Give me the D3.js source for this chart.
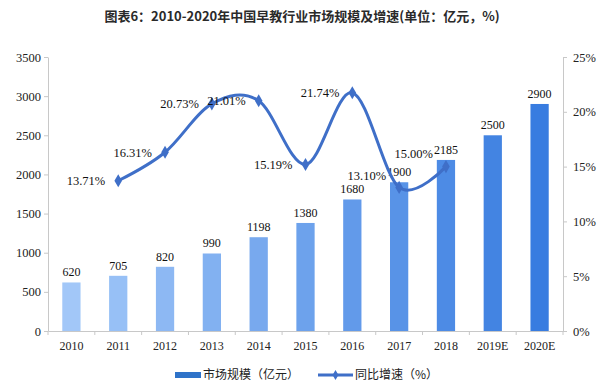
<!DOCTYPE html>
<html><head><meta charset="utf-8">
<script src="https://cdn.jsdelivr.net/npm/d3@7/dist/d3.min.js"></script>
<style>body{margin:0;background:#fff}svg{display:block}</style>
</head><body><svg id="c" width="600" height="387"></svg>
<script>
const categories = ["2010","2011","2012","2013","2014","2015","2016","2017","2018","2019E","2020E"];
const marketSize = [620,705,820,990,1198,1380,1680,1900,2185,2500,2900];
const growthYears = ["2011","2012","2013","2014","2015","2016","2017","2018"];
const growthRate = [13.71,16.31,20.73,21.01,15.19,21.74,13.10,15.00];
const leftTicks = [0,500,1000,1500,2000,2500,3000,3500];
const rightTicks = [0,5,10,15,20,25];
const title = "图表6：2010-2020年中国早教行业市场规模及增速(单位：亿元，%)";
const legendLabels = ["市场规模（亿元）","同比增速（%）"];

const svg = d3.select("#c");
const L = 48, R = 563, T = 57, B = 331;
const serif = "'Liberation Serif','Times New Roman',serif";
const axisColor = "#c8c8c8";
const lineColor = "#3f6fc8";

const x = d3.scaleBand().domain(categories).range([L, R]);
const y = d3.scaleLinear().domain([0, 3500]).range([B, T]);
const y2 = d3.scaleLinear().domain([0, 25]).range([B, T]);
const barColor = d3.scaleLinear().domain([0, categories.length - 1]).range(["#a2c7f8", "#387ce0"]);
const bw = x.bandwidth() * 0.39;
const cx = d => x(d) + x.bandwidth() / 2;

// title
svg.append("text").attr("x", 302).attr("y", 21).attr("text-anchor", "middle")
  .attr("font-family", "'Noto Sans CJK SC',sans-serif").attr("font-weight", "bold")
  .attr("font-size", 13).attr("fill", "#2a2a2a").text(title);

// bars
svg.append("g").selectAll("rect").data(marketSize).join("rect")
  .attr("x", (d, i) => cx(categories[i]) - bw / 2)
  .attr("y", d => y(d)).attr("width", bw).attr("height", d => B - y(d))
  .attr("fill", (d, i) => barColor(i));

// bar labels
svg.append("g").selectAll("text").data(marketSize).join("text")
  .attr("x", (d, i) => cx(categories[i])).attr("y", d => y(d) - 6)
  .attr("text-anchor", "middle").attr("font-family", serif).attr("font-size", 12)
  .attr("fill", "#111").text(d => d);

// axes
const axStyle = g => {
  g.selectAll("path,line").attr("stroke", axisColor);
  g.selectAll("text").attr("font-family", serif).attr("font-size", 12.5).attr("fill", "#222");
};
svg.append("g").attr("transform", `translate(${L},0)`)
  .call(d3.axisLeft(y).tickValues(leftTicks).tickFormat(d3.format("d")).tickSize(4).tickSizeOuter(0).tickPadding(3))
  .call(axStyle);
svg.append("g").attr("transform", `translate(${R},0)`)
  .call(d3.axisRight(y2).tickValues(rightTicks).tickSize(4).tickSizeOuter(0).tickPadding(6).tickFormat(d => d + "%"))
  .call(axStyle);
const xg = svg.append("g").attr("transform", `translate(0,${B})`)
  .call(d3.axisBottom(x).tickSize(0).tickPadding(10)).call(axStyle);
xg.selectAll("text").attr("font-size", 12);
// tick marks at band boundaries
svg.append("g").selectAll("line").data(categories.concat(["end"])).join("line")
  .attr("x1", (d, i) => i < categories.length ? x(d) : R)
  .attr("x2", (d, i) => i < categories.length ? x(d) : R)
  .attr("y1", B).attr("y2", B + 4).attr("stroke", axisColor);

// growth line
const pts = growthRate.map((v, i) => [cx(growthYears[i]), y2(v)]);
svg.append("path").datum(pts).attr("fill", "none").attr("stroke", lineColor)
  .attr("stroke-width", 3).attr("d", d3.line().curve(d3.curveCardinal.tension(0)));
const diamond = d3.symbol().type(d3.symbolDiamond).size(50);
svg.append("g").selectAll("path").data(pts).join("path")
  .attr("transform", d => `translate(${d[0]},${d[1]})`).attr("d", diamond).attr("fill", lineColor);

// growth labels (left of point; last two raised)
const labelDy = [0, 0, 0, 0, 0, 0, -12, -13];
svg.append("g").selectAll("text").data(growthRate).join("text")
  .attr("x", (d, i) => pts[i][0] - 13).attr("y", (d, i) => pts[i][1] + labelDy[i])
  .attr("dy", "0.35em").attr("text-anchor", "end")
  .attr("font-family", serif).attr("font-size", 12.5).attr("fill", "#111")
  .text(d => d.toFixed(2) + "%");

// legend
const lg = svg.append("g").attr("font-family", "'Noto Sans CJK SC',sans-serif").attr("font-size", 12).attr("fill", "#222");
lg.append("rect").attr("x", 175).attr("y", 372).attr("width", 26).attr("height", 6).attr("fill", "#2f73c9");
lg.append("text").attr("x", 203).attr("y", 375).attr("dy", "0.35em").text(legendLabels[0]);
lg.append("line").attr("x1", 318).attr("x2", 353).attr("y1", 375).attr("y2", 375).attr("stroke", lineColor).attr("stroke-width", 3);
lg.append("path").attr("transform", "translate(335.5,375)").attr("d", d3.symbol().type(d3.symbolDiamond).size(30)).attr("fill", lineColor);
lg.append("text").attr("x", 355).attr("y", 375).attr("dy", "0.35em").text(legendLabels[1]);
</script></body></html>
